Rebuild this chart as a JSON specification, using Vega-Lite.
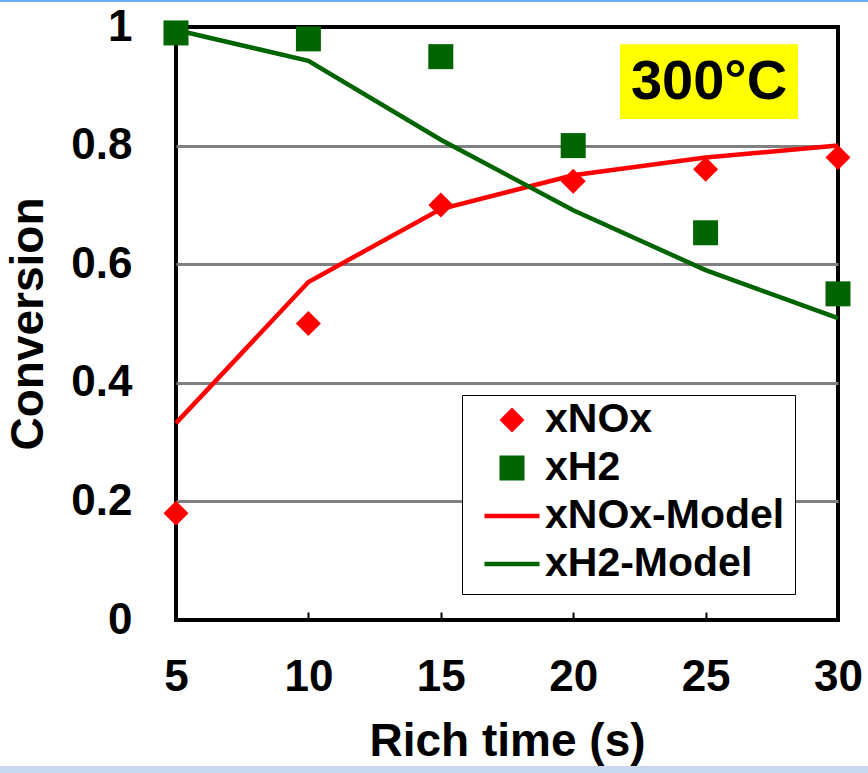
{
  "$schema": "https://vega.github.io/schema/vega-lite/v6.json",
  "width": 662,
  "height": 593,
  "autosize": {"type": "none"},
  "padding": {"left": 176, "top": 27, "right": 30, "bottom": 153},
  "background": "white",
  "config": {
    "font": "Liberation Sans",
    "view": {"stroke": "black", "strokeWidth": 4},
    "axis": {"labelFont": "Liberation Sans", "labelFontWeight": "bold", "labelColor": "black", "titleFont": "Liberation Sans", "titleFontWeight": "bold", "titleColor": "black"}
  },
  "datasets": {
    "measured": [
      {"t": 5, "value": 0.18, "series": "xNOx"},
      {"t": 10, "value": 0.50, "series": "xNOx"},
      {"t": 15, "value": 0.70, "series": "xNOx"},
      {"t": 20, "value": 0.74, "series": "xNOx"},
      {"t": 25, "value": 0.76, "series": "xNOx"},
      {"t": 30, "value": 0.78, "series": "xNOx"},
      {"t": 5, "value": 0.99, "series": "xH2"},
      {"t": 10, "value": 0.98, "series": "xH2"},
      {"t": 15, "value": 0.95, "series": "xH2"},
      {"t": 20, "value": 0.80, "series": "xH2"},
      {"t": 25, "value": 0.653, "series": "xH2"},
      {"t": 30, "value": 0.55, "series": "xH2"}
    ],
    "model": [
      {"t": 5, "value": 0.332, "series": "xNOx-Model"},
      {"t": 10, "value": 0.57, "series": "xNOx-Model"},
      {"t": 15, "value": 0.693, "series": "xNOx-Model"},
      {"t": 20, "value": 0.75, "series": "xNOx-Model"},
      {"t": 25, "value": 0.78, "series": "xNOx-Model"},
      {"t": 30, "value": 0.80, "series": "xNOx-Model"},
      {"t": 5, "value": 0.995, "series": "xH2-Model"},
      {"t": 10, "value": 0.943, "series": "xH2-Model"},
      {"t": 15, "value": 0.81, "series": "xH2-Model"},
      {"t": 20, "value": 0.691, "series": "xH2-Model"},
      {"t": 25, "value": 0.59, "series": "xH2-Model"},
      {"t": 30, "value": 0.509, "series": "xH2-Model"}
    ],
    "note": [{"label": "300°C"}]
  },
  "layer": [
    {
      "data": {"name": "note"},
      "mark": {"type": "rect", "fill": "#6aabff", "clip": false},
      "encoding": {
        "x": {"datum": -1.7, "type": "quantitative"},
        "x2": {"datum": 31.2},
        "y": {"datum": 1.0455, "type": "quantitative"},
        "y2": {"datum": 1.042}
      }
    },
    {
      "data": {"name": "note"},
      "mark": {"type": "rect", "fill": "#c8d8f0", "clip": false},
      "encoding": {
        "x": {"datum": -1.7, "type": "quantitative"},
        "x2": {"datum": 31.2},
        "y": {"datum": -0.2462, "type": "quantitative"},
        "y2": {"datum": -0.2597}
      }
    },
    {
      "data": {"name": "note"},
      "mark": {"type": "rect", "fill": "#ffff00"},
      "encoding": {
        "x": {"datum": 21.77, "type": "quantitative"},
        "x2": {"datum": 28.49},
        "y": {"datum": 0.971, "type": "quantitative"},
        "y2": {"datum": 0.845}
      }
    },
    {
      "data": {"name": "note"},
      "mark": {"type": "text", "font": "Liberation Sans", "fontWeight": "bold", "fontSize": 56, "color": "black", "baseline": "middle", "align": "center"},
      "encoding": {
        "x": {"datum": 25.13, "type": "quantitative"},
        "y": {"datum": 0.907, "type": "quantitative"},
        "text": {"field": "label"}
      }
    },
    {
      "data": {"name": "model"},
      "mark": {"type": "line", "strokeWidth": 4.5},
      "encoding": {
        "x": {"field": "t", "type": "quantitative"},
        "y": {"field": "value", "type": "quantitative"},
        "color": {"field": "series", "type": "nominal"}
      }
    },
    {
      "data": {"name": "measured"},
      "mark": {"type": "point", "filled": true, "opacity": 1},
      "encoding": {
        "x": {
          "field": "t", "type": "quantitative",
          "scale": {"domain": [5, 30], "nice": false, "zero": false},
          "axis": {"title": "Rich time (s)", "values": [5, 10, 15, 20, 25, 30], "grid": false, "domain": false, "ticks": true, "tickSize": -8, "tickColor": "black", "tickWidth": 2, "labelFontSize": 44, "labelPadding": 43, "titleFontSize": 46, "titlePadding": 20, "labelFlush": false}
        },
        "y": {
          "field": "value", "type": "quantitative",
          "scale": {"domain": [0, 1], "nice": false},
          "axis": {"title": "Conversion", "values": [0, 0.2, 0.4, 0.6, 0.8, 1], "format": ".1~f", "grid": true, "gridColor": {"condition": {"test": "datum.value == 0 || datum.value == 1", "value": "transparent"}, "value": "#808080"}, "gridWidth": 3, "domain": false, "ticks": false, "labelFontSize": 44, "labelPadding": 44, "titleFontSize": 46, "titlePadding": 18, "labelFlush": false}
        },
        "color": {
          "field": "series", "type": "nominal",
          "scale": {"domain": ["xNOx", "xH2", "xNOx-Model", "xH2-Model"], "range": ["#ff0000", "#006400", "#ff0000", "#006400"]},
          "legend": {
            "title": null, "orient": "none", "legendX": 286, "legendY": 368,
            "strokeColor": "black", "fillColor": "white",
            "padding": 10, "labelFont": "Liberation Sans", "labelFontWeight": "bold", "labelFontSize": 41, "labelColor": "black", "labelLimit": 500,
            "clipHeight": 30, "rowPadding": 7, "labelOffset": 3, "symbolOffset": 10,
            "encode": {
              "legend": {"strokeWidth": {"value": 2}}
            }
          }
        },
        "shape": {
          "field": "series", "type": "nominal",
          "scale": {"domain": ["xNOx", "xH2", "xNOx-Model", "xH2-Model"], "range": ["diamond", "square", "stroke", "stroke"]}
        },
        "size": {
          "field": "series", "type": "nominal",
          "scale": {"type": "ordinal", "domain": ["xNOx", "xH2", "xNOx-Model", "xH2-Model"], "range": [625, 625, 3025, 3025]}
        },
        "strokeWidth": {
          "field": "series", "type": "nominal",
          "scale": {"type": "ordinal", "domain": ["xNOx", "xH2", "xNOx-Model", "xH2-Model"], "range": [0, 0, 4.5, 4.5]}
        }
      }
    }
  ]
}
